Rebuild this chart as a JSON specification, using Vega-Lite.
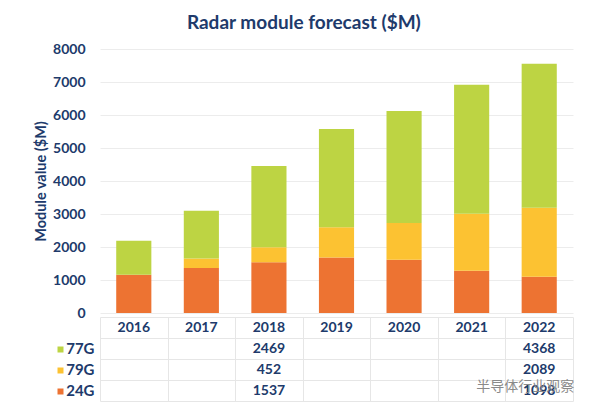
{
  "$schema": "https://vega.github.io/schema/vega-lite/v6.json",
  "background": "white",
  "padding": {"left": 33, "top": 14, "right": 5, "bottom": 5},
  "title": {"text": "Radar module forecast ($M)", "font": "Lato", "fontSize": 19, "fontWeight": "bold", "color": "#203a6b", "anchor": "middle", "offset": 9},
  "data": {"values": [
    {"year": "2016", "series": "24G", "value": 1160},
    {"year": "2016", "series": "79G", "value": 0},
    {"year": "2016", "series": "77G", "value": 1030},
    {"year": "2017", "series": "24G", "value": 1360},
    {"year": "2017", "series": "79G", "value": 295},
    {"year": "2017", "series": "77G", "value": 1445},
    {"year": "2018", "series": "24G", "value": 1537},
    {"year": "2018", "series": "79G", "value": 452},
    {"year": "2018", "series": "77G", "value": 2469},
    {"year": "2019", "series": "24G", "value": 1685},
    {"year": "2019", "series": "79G", "value": 910},
    {"year": "2019", "series": "77G", "value": 2980},
    {"year": "2020", "series": "24G", "value": 1615},
    {"year": "2020", "series": "79G", "value": 1110},
    {"year": "2020", "series": "77G", "value": 3400},
    {"year": "2021", "series": "24G", "value": 1280},
    {"year": "2021", "series": "79G", "value": 1730},
    {"year": "2021", "series": "77G", "value": 3910},
    {"year": "2022", "series": "24G", "value": 1098},
    {"year": "2022", "series": "79G", "value": 2089},
    {"year": "2022", "series": "77G", "value": 4368}
  ]},
  "spacing": 4,
  "bounds": "flush",
  "vconcat": [
    {
      "width": 473,
      "height": 264,
      "transform": [{"calculate": "indexof(['24G', '79G', '77G'], datum.series)", "as": "stackRank"}],
      "mark": {"type": "bar"},
      "encoding": {
        "x": {"field": "year", "type": "ordinal", "scale": {"paddingInner": 0.48, "paddingOuter": 0.24}, "axis": null},
        "y": {"field": "value", "type": "quantitative", "stack": "zero", "scale": {"domain": [0, 8000]},
          "axis": {"values": [0, 1000, 2000, 3000, 4000, 5000, 6000, 7000, 8000], "format": "d", "grid": true, "gridColor": "#ececec", "domain": false, "ticks": false, "labelPadding": 15, "labelFont": "Lato", "labelFontWeight": "bold", "labelFontSize": 14, "labelColor": "#203a6b", "title": "Module value ($M)", "titleFont": "Lato", "titleFontWeight": "bold", "titleFontSize": 14.5, "titleColor": "#203a6b", "titlePadding": 4}},
        "color": {"field": "series", "type": "nominal", "scale": {"domain": ["24G", "79G", "77G"], "range": ["#ED7332", "#FCC232", "#BDD443"]}, "legend": null},
        "order": {"field": "stackRank", "type": "quantitative", "sort": "ascending"}
      }
    },
    {
      "width": 473,
      "height": 84,
      "resolve": {"scale": {"y": "independent"}, "axis": {"y": "independent"}},
      "layer": [
        {
          "transform": [{"filter": "datum.year == '2018' || datum.year == '2022'"}],
          "mark": {"type": "text", "font": "Lato", "fontWeight": "bold", "fontSize": 14, "color": "#203a6b", "baseline": "middle"},
          "encoding": {
            "x": {"field": "year", "type": "ordinal", "scale": {"paddingInner": 0, "paddingOuter": 0},
              "axis": {"orient": "bottom", "labels": false, "ticks": false, "domain": false, "grid": true, "tickBand": "extent", "gridColor": "#e6e6e6", "title": null, "minExtent": 0, "maxExtent": 0, "labelPadding": 0}},
            "y": {"field": "series", "type": "nominal", "scale": {"domain": ["hdr", "77G", "79G", "24G"], "paddingInner": 0, "paddingOuter": 0},
              "axis": {"orient": "left", "labelExpr": "datum.value == 'hdr' ? '' : datum.value", "ticks": false, "domain": false, "grid": true, "tickBand": "extent", "gridColor": "#e6e6e6", "labelPadding": 6, "labelFont": "Lato", "labelFontWeight": "bold", "labelFontSize": 15, "labelColor": "#203a6b", "title": null}},
            "text": {"field": "value", "type": "quantitative"}
          }
        },
        {
          "transform": [{"filter": "datum.series == '24G'"}],
          "mark": {"type": "text", "font": "Lato", "fontWeight": "bold", "fontSize": 14, "color": "#203a6b", "baseline": "middle"},
          "encoding": {
            "x": {"field": "year", "type": "ordinal"},
            "y": {"datum": "hdr", "type": "nominal", "scale": {"domain": ["hdr", "77G", "79G", "24G"], "paddingInner": 0, "paddingOuter": 0}, "axis": null},
            "text": {"field": "year", "type": "nominal"}
          }
        },
        {
          "transform": [{"filter": "datum.year == '2016'"}],
          "mark": {"type": "text", "opacity": 0},
          "encoding": {
            "x": {"field": "year", "type": "ordinal"},
            "y": {"field": "series", "type": "nominal", "scale": {"domain": ["hdr", "77G", "79G", "24G"], "paddingInner": 0, "paddingOuter": 0},
              "axis": {"orient": "left", "offset": 37, "labels": false, "domain": false, "grid": false, "ticks": true, "tickSize": 6, "tickWidth": 6,
                "tickColor": {"condition": [{"test": "datum.value === '77G'", "value": "#BDD443"}, {"test": "datum.value === '79G'", "value": "#FCC232"}, {"test": "datum.value === '24G'", "value": "#ED7332"}], "value": "transparent"}, "title": null}},
            "text": {"value": ""}
          }
        },
        {
          "transform": [{"filter": "datum.year == '2022' && datum.series == '24G'"}],
          "mark": {"type": "text", "font": "Noto Sans CJK SC", "fontSize": 14, "color": "#8a8a8a", "baseline": "middle", "dx": -14, "dy": -4},
          "encoding": {
            "x": {"field": "year", "type": "ordinal"},
            "y": {"field": "series", "type": "nominal", "scale": {"domain": ["hdr", "77G", "79G", "24G"], "paddingInner": 0, "paddingOuter": 0}, "axis": null},
            "text": {"value": "半导体行业观察"}
          }
        }
      ]
    }
  ],
  "config": {"view": {"stroke": null}}
}
